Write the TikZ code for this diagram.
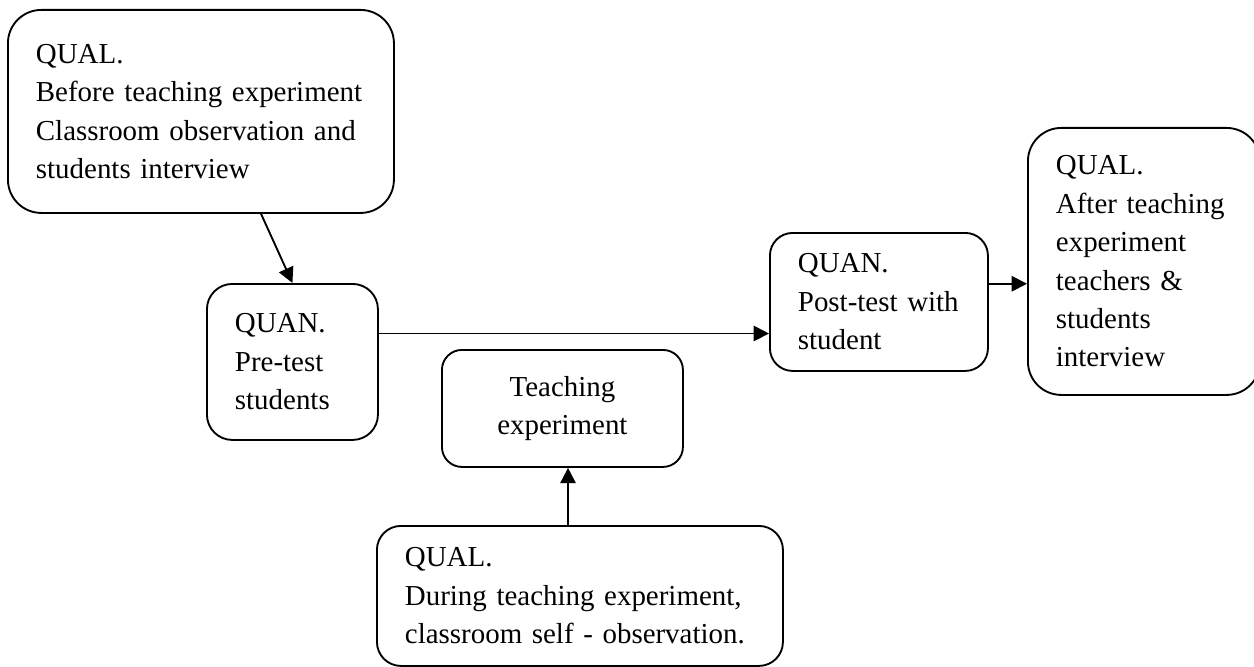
\documentclass[tikz,border=0pt]{standalone}
\usepackage{fontspec}
\setmainfont{Liberation Serif}
\usetikzlibrary{arrows.meta,calc}
\hyphenpenalty=10000
\exhyphenpenalty=10000

\begin{document}
\begin{tikzpicture}[x=0.75pt,y=0.75pt,yscale=-1,xscale=1,
	qbox/.style={draw, line width=1.4pt, rounded corners=18pt, anchor=north west, inner xsep=21pt, inner ysep=0pt, align=left, font=\fontsize{21.7}{28.8}\selectfont},
	arr/.style={-{Triangle[length=11.5pt,width=11.5pt]}, line width=1.4pt}]
		\useasboundingbox (0,0) rectangle (1254,667);
		\node [qbox, rounded corners=25pt, text width=247.5pt, minimum height=152.25pt] (before) at (7,9) {QUAL.\\Before~teaching~experiment\\Classroom~observation~and\\students interview};
		\node [qbox, rounded corners=19pt, text width=86.25pt, minimum height=117pt] (pre) at (206,283) {QUAN.\\Pre-test\\students};
		\node [qbox, rounded corners=15pt, align=center, text width=138.75pt, minimum height=87.75pt] (teach) at (441,349) {Teaching\\experiment};
		\node [qbox, text width=262.5pt, minimum height=105pt] (during) at (376,525) {QUAL.\\During~teaching~experiment,\\classroom~self~-~observation.};
		\node [qbox, rounded corners=17pt, text width=121.5pt, minimum height=103.5pt] (post) at (769,232) {QUAN.\\Post-test~with\\student};
		\node [qbox, rounded corners=25pt, text width=132pt, minimum height=200.25pt] (after) at (1027,127) {QUAL.\\After~teaching\\experiment\\teachers~\&\\students\\interview};
		\coordinate (c1) at ($(before.south west)!0.655!(before.south east)$);
		\coordinate (c2) at ($(pre.north east)!0.32!(pre.south east)$);
		\coordinate (c3) at ($(teach.south west)!0.523!(teach.south east)$);
		\coordinate (c4) at ($(post.north east)!0.37!(post.south east)$);
		\draw [arr] (c1) -- (pre.north);
		\draw [arr] (c2) -- (c2 -| post.west);
		\draw [arr] (c3 |- during.north) -- (c3);
		\draw [arr] (c4) -- (c4 -| after.west);
	\end{tikzpicture}
\end{document}
